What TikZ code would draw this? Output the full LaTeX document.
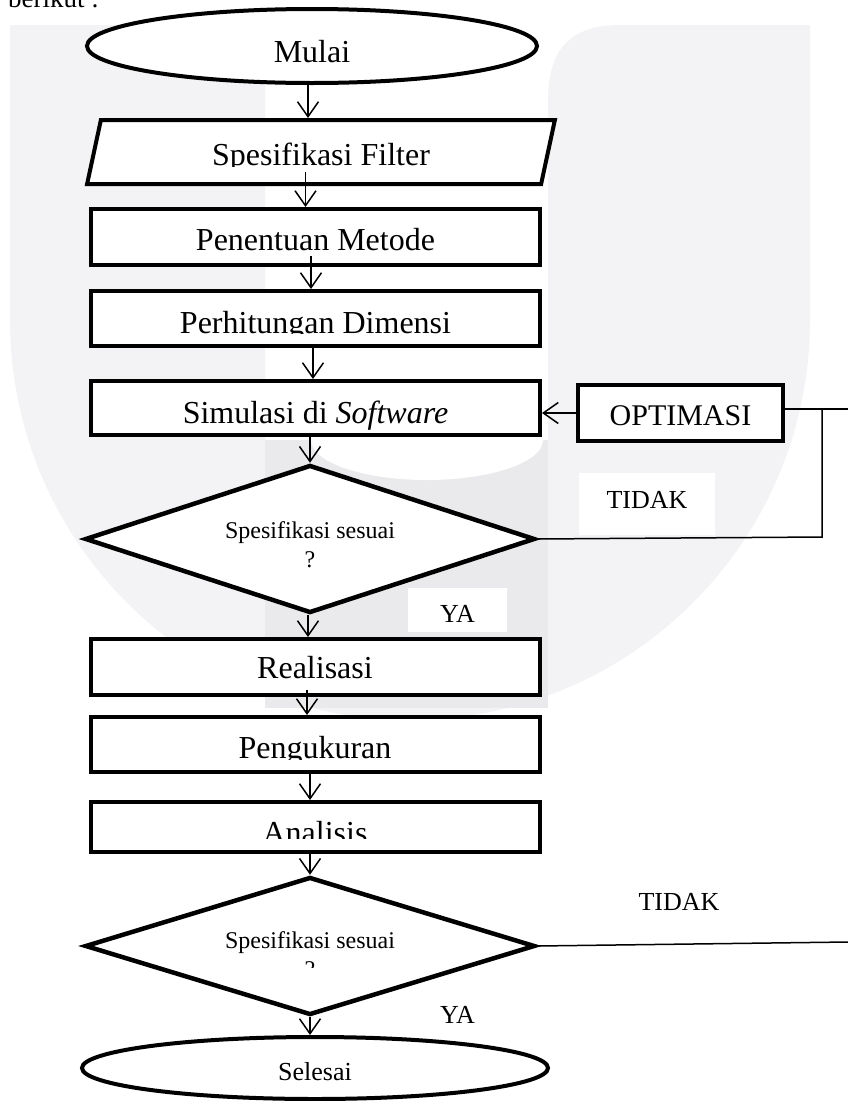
\documentclass[tikz,border=0pt]{standalone}
\usepackage{fontspec}
\setmainfont{Liberation Serif}
\usepackage{tikz}
\usetikzlibrary{positioning,arrows.meta,shapes.geometric}
\definecolor{wmlight}{RGB}{243,243,245}
\definecolor{wmdark}{RGB}{234,234,237}
\tikzset{
  prosesbox/.style={rectangle, draw, line width=4pt, fill=white, minimum width=449pt, minimum height=56pt,
                    inner sep=2pt, text height=26pt, text depth=0pt, font=\fontsize{32}{38}\selectfont},
  startend/.style={ellipse, draw, line width=4pt, fill=white, inner sep=0pt},
  ioslant/.style={trapezium, trapezium left angle=77, trapezium right angle=103, trapezium stretches=true,
                  draw, line width=4pt, fill=white, minimum width=468pt, minimum height=64pt,
                  inner sep=2pt, text height=26pt, text depth=0pt, font=\fontsize{32}{38}\selectfont},
  decision/.style={diamond, aspect=3, draw, line width=4.5pt, fill=white, minimum width=450pt, inner sep=0pt,
                   align=center, font=\fontsize{24}{29}\selectfont},
  fwd/.style={-{Straight Barb[length=15pt,width=21pt]}, line width=1.5pt},
  wire/.style={line width=1.5pt},
  jawab/.style={anchor=base, inner sep=0pt, font=\fontsize{26}{31}\selectfont},
  mask/.style={fill=white, draw=none}, % hides the cut-off part of a text
}

\begin{document}
\begin{tikzpicture}[x=1pt, y=-1pt]
  \useasboundingbox (0,0) rectangle (848,1101);

  % watermark behind the chart
  \fill[wmlight] (10,25) -- (265,25) -- (265,440) -- (548,440) -- (548,100)
    .. controls (548,50) and (570,25) .. (620,25) -- (810,25) -- (810,320)
    arc[start angle=0, end angle=180, radius=400] -- cycle;
  \fill[wmdark] (265,440) rectangle (548,708);
  \fill[white] (311,440) arc[start angle=180, end angle=0, x radius=116, y radius=40] -- cycle;

  \node[anchor=base west, inner sep=0pt, font=\fontsize{27}{32}\selectfont] (intro) at (8,7) {berikut :};

  \node[jawab, fill=white, minimum width=136pt, text height=35pt, text depth=27pt] (tidak1) at (647,508) {TIDAK};
  \node[jawab, fill=white, minimum width=99pt, text height=34pt, text depth=10pt] (ya1) at (457.5,622) {YA};
  \node[jawab] (tidak2) at (679,910) {TIDAK};
  \node[jawab] (ya2) at (457.5,1023) {YA};

  \node[startend, minimum width=450pt, minimum height=74pt, text height=32pt, text depth=0pt,
        font=\fontsize{32}{38}\selectfont] (mulai) at (312,46) {Mulai};
  \node[ioslant] (spek) at (321,152) {Spesifikasi Filter};
  \node[prosesbox] (metode) at (315.5,237) {Penentuan Metode};
  \node[prosesbox, minimum height=55pt, text height=29pt] (dimensi) at (315.5,318.5) {Perhitungan Dimensi};
  \node[prosesbox, minimum height=54pt, text height=30pt] (simulasi) at (315.5,408) {Simulasi di \textit{Software}};
  \node[prosesbox, minimum width=205pt, text height=24pt, font=\fontsize{30}{36}\selectfont] (optimasi) at (680.5,413) {OPTIMASI\hspace{24pt}};
  \node[decision, minimum height=148pt, text height=56pt, text depth=0pt] (cek1) at (310,539) {Spesifikasi sesuai\\?};
  \node[prosesbox, text height=22pt] (realisasi) at (315,667) {Realisasi};
  \node[prosesbox, minimum height=55pt, text height=27pt] (ukur) at (315,744.5) {Pengukuran};
  \node[prosesbox, minimum height=50pt, text height=32pt] (analisis) at (315,827) {Analisis};
  \node[decision, minimum height=138pt, text height=62pt, text depth=0pt] (cek2) at (310,946) {Spesifikasi sesuai\\?};
  \node[startend, minimum width=466pt, minimum height=62pt, text height=24pt, text depth=0pt,
        font=\fontsize{26}{31}\selectfont] (selesai) at (315,1068) {Selesai};

  \fill[mask] (200,167) rectangle (445,181);
  \fill[mask] (170,334) rectangle (460,344);
  \fill[mask] (220,760) rectangle (410,770);
  \fill[mask] (250,839) rectangle (380,850);
  \fill[mask] (295,968) rectangle (325,985);

  \coordinate (tepi1) at (848,409);
  \coordinate (siku) at (822,537);
  \coordinate (tepi2) at (848,942);

  \draw[fwd] ([xshift=-4pt]mulai.south) -- ([xshift=-4pt]mulai.south |- spek.north);
  \draw[fwd] ([xshift=-10pt,yshift=14pt]metode.north |- spek.south) -- ([xshift=-10pt]metode.north);
  \draw[fwd] ([xshift=-4.5pt,yshift=11pt]metode.south) -- ([xshift=-4.5pt]dimensi.north);
  \draw[fwd] ([xshift=-2.5pt]dimensi.south) -- ([xshift=-2.5pt]simulasi.north);
  \draw[fwd] (simulasi.south -| cek1.north) -- (cek1.north);
  \draw[fwd] ([xshift=-2pt]cek1.south) -- ([xshift=-2pt]cek1.south |- realisasi.north);
  \draw[fwd] ([xshift=-8pt,yshift=7pt]realisasi.south) -- ([xshift=-8pt]ukur.north);
  \draw[fwd] ([xshift=-5pt]ukur.south) -- ([xshift=-5pt]analisis.north);
  \draw[fwd] (analisis.south -| cek2.north) -- (cek2.north);
  \draw[fwd] (cek2.south) -- (cek2.south |- selesai.north);

  \draw[fwd] (optimasi.west) -- (optimasi.west -| simulasi.east);
  \draw[wire] (optimasi.east |- tepi1) -- (tepi1);
  \draw[wire] (siku |- tepi1) -- (siku) -- (cek1.east);
  \draw[wire] (cek2.east) -- (tepi2);
\end{tikzpicture}
\end{document}
